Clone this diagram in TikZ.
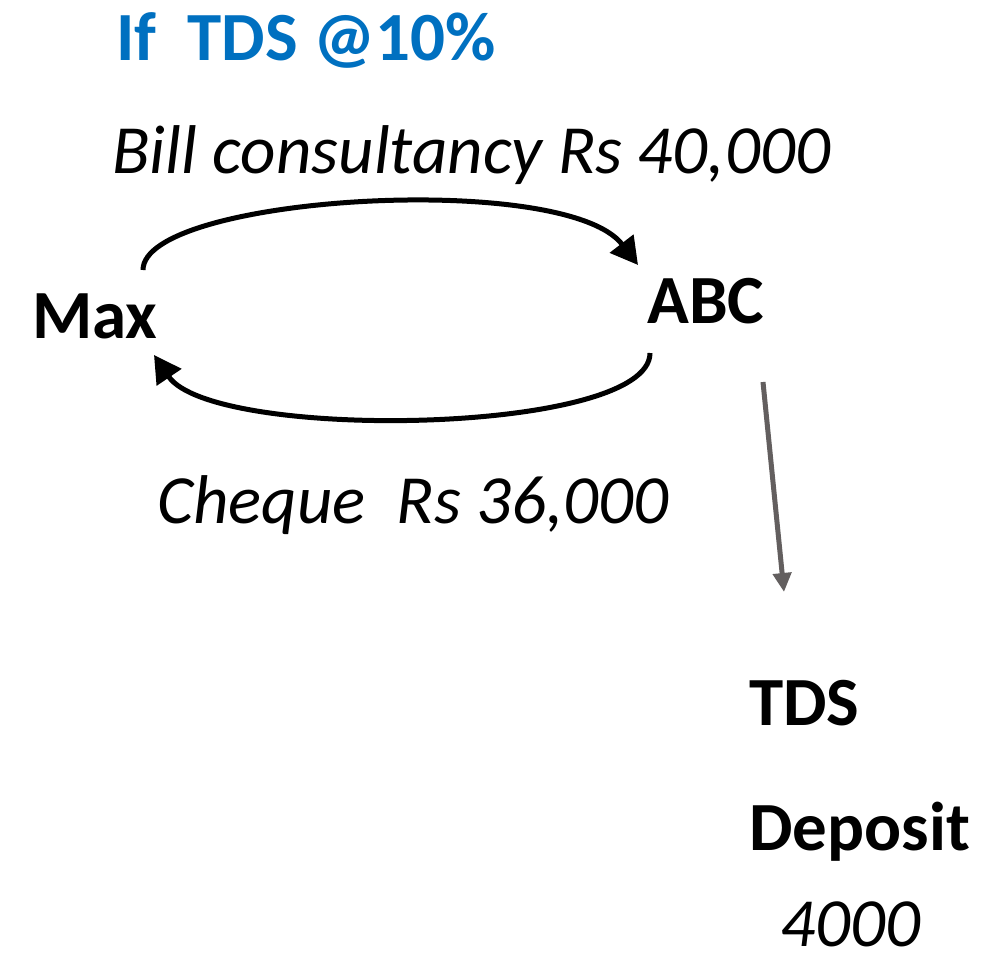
\documentclass[tikz,border=0pt]{standalone}
\usepackage{fontspec}
\setmainfont{Carlito}
\usetikzlibrary{arrows.meta}
\definecolor{titleblue}{RGB}{0,112,192}
\definecolor{arrowgray}{RGB}{99,95,95}
\begin{document}
\begin{tikzpicture}[x=1pt,y=-1pt,
  txt/.style={anchor=base west,inner sep=0pt,font=\fontsize{69}{82}\selectfont},
  bold/.style={txt,font=\fontsize{69}{82}\selectfont\bfseries},
  ital/.style={txt,font=\fontsize{69}{82}\selectfont\itshape},
  flow/.style={line width=5pt,-{Triangle[length=27pt,width=29pt]}},
  grayflow/.style={line width=5pt,arrowgray,-{Triangle[length=19pt,width=18pt]}}]
\useasboundingbox (0,0) rectangle (982,953);
\node[bold,text=titleblue] (title) at (116,60) {If\ \ TDS @10\%};
\node[ital] (bill) at (112,173) {Bill consultancy Rs 40,000};
\node[bold] (max) at (32,338) {Max};
\node[bold] (abc) at (647,323) {ABC};
\node[ital] (cheque) at (157,523) {Cheque\ \ Rs 36,000};
\node[bold] (tds) at (749,725) {TDS};
\node[bold] (deposit) at (749,850) {Deposit};
\node[ital] (amt) at (780,946) {4000};
\draw[flow] ([shift={(111,-68)}]max.base west) .. controls (143,196) and (565,170) .. ([shift={(-9,-58)}]abc.base west);
\draw[flow] ([shift={(3,30)}]abc.base west) .. controls (650,435) and (213,442) .. ([shift={(122,17)}]max.base west);
\draw[grayflow] ([shift={(116,59)}]abc.base west) -- ([shift={(35,-133)}]tds.base west);
\end{tikzpicture}
\end{document}
